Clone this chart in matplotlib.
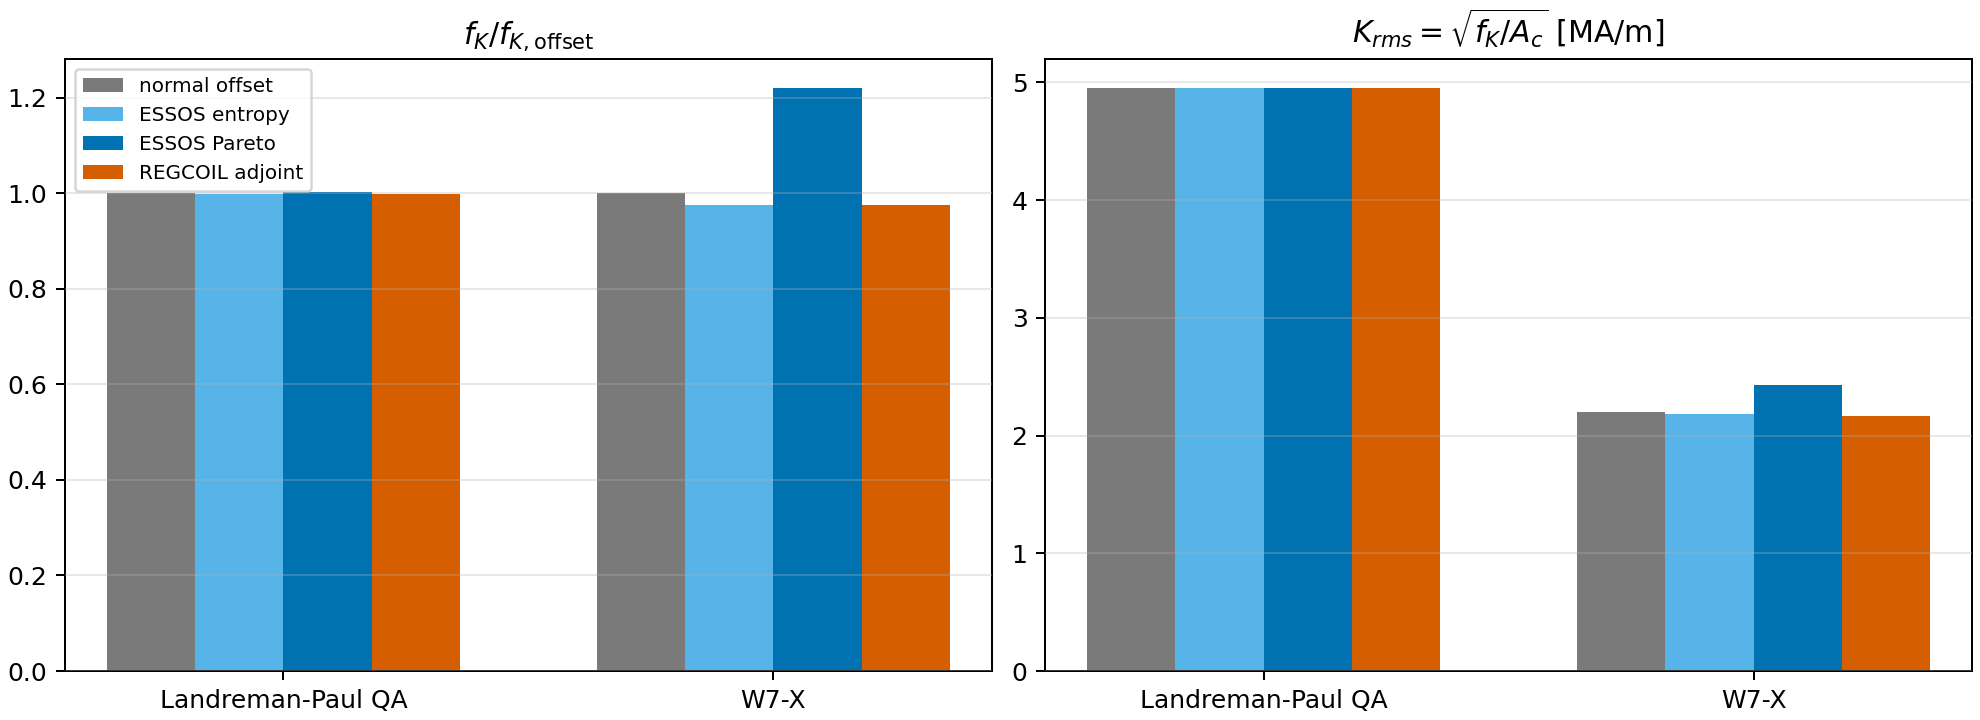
import numpy as np
import matplotlib
matplotlib.use("Agg")
import matplotlib.pyplot as plt

configs = ["Landreman-Paul QA", "W7-X"]
methods = ["normal offset", "ESSOS entropy", "ESSOS Pareto", "REGCOIL adjoint"]
colors = ["#7a7a7a", "#56B4E9", "#0072B2", "#D55E00"]

# f_K relative to the normal offset
fk_ratio = {
    "normal offset":   [1.000, 1.000],
    "ESSOS entropy":   [0.998, 0.975],
    "ESSOS Pareto":    [1.002, 1.220],
    "REGCOIL adjoint": [0.998, 0.975],
}
# K_rms in MA/m
k_rms = {
    "normal offset":   [4.95, 2.20],
    "ESSOS entropy":   [4.95, 2.18],
    "ESSOS Pareto":    [4.95, 2.43],
    "REGCOIL adjoint": [4.95, 2.17],
}

plt.rcParams['font.size'] = 10
fig = plt.figure(figsize=(11, 4), dpi=180)
ax1 = fig.add_axes([0.0328, 0.068, 0.4682, 0.850])
ax2 = fig.add_axes([0.5278, 0.068, 0.4682, 0.850])

x = np.arange(len(configs))
w = 0.18
offs = (np.arange(len(methods)) - 1.5) * w

for ax, data in [(ax1, fk_ratio), (ax2, k_rms)]:
    for i, m in enumerate(methods):
        ax.bar(x + offs[i], data[m], w, color=colors[i], label=m)
    ax.set_xticks(x)
    ax.set_xticklabels(configs)
    ax.grid(axis='y', alpha=0.3)
    ax.set_axisbelow(False)

ax1.set_yticks(np.arange(0, 1.21, 0.2))
ax1.set_title(r'$f_K / f_{K,\mathrm{offset}}$', fontsize=12)
ax1.legend(loc='upper left', fontsize=8)

ax2.set_yticks(range(0, 6))
ax2.set_title(r'$K_{rms} = \sqrt{f_K / A_c}$ [MA/m]', fontsize=12)

fig.savefig("out.png", dpi=180)
